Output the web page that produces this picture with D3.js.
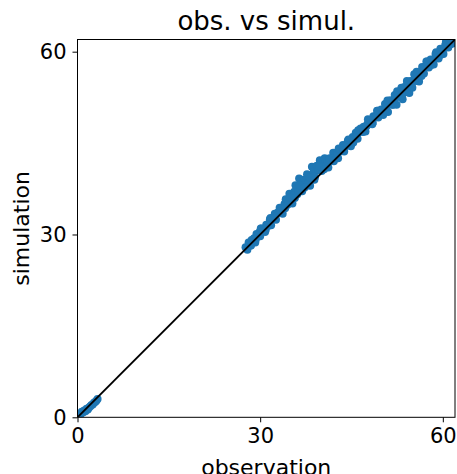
<!DOCTYPE html>
<html><head><meta charset="utf-8">
<script src="https://cdn.jsdelivr.net/npm/d3@7"></script>
<style>
body{margin:0;background:#fff;}
text{font-family:"DejaVu Sans",sans-serif;fill:#000;}
</style></head>
<body><svg id="c" width="457" height="474"></svg>
<script>
const titleText = "obs. vs simul.";
const xLabel = "observation";
const yLabel = "simulation";
const tickValues = [0, 30, 60];
const axisMin = 0, axisMax = 62;

const obsValues = [
0.3,0.5,0.7,0.9,1.1,1.3,1.5,1.7,1.9,2.1,2.3,2.5,2.7,2.9,3.1,3.3,
27.6,27.9,28.1,28.4,28.6,28.9,29.2,29.4,29.7,30.0,30.2,30.5,30.8,31.0,31.3,31.6,31.8,32.1,32.4,32.6,32.9,33.2,33.4,33.7,34.0,34.2,34.5,34.8,35.0,35.3,35.6,35.8,36.1,36.4,36.6,36.9,37.2,37.4,37.7,38.0,38.2,38.5,38.8,39.0,39.3,39.6,39.8,40.1,40.4,40.6,40.9,41.2,41.4,41.7,42.0,42.2,42.5,42.8,43.0,43.3,43.6,43.8,44.1,44.4,44.6,44.9,45.2,45.4,45.7,46.0,46.2,46.5,46.8,47.0,47.3,47.6,47.8,48.1,48.4,48.6,48.9,49.2,49.4,49.7,50.0,50.2,50.5,50.8,51.0,51.3,51.6,51.8,52.1,52.4,52.6,52.9,53.2,53.4,53.7,54.0,54.2,54.5,54.8,55.0,55.3,55.6,55.8,56.1,56.4,56.6,56.9,57.2,57.4,57.7,58.0,58.2,58.5,58.8,59.0,59.3,59.6,59.8,60.1,60.4,60.6,60.9,61.2,61.4,61.7,62.0,
28.2,29.0,29.9,30.7,31.5,32.3,33.1,33.9,34.7,35.5,36.3,37.1,37.9,38.7,39.5,40.3,41.1,41.9,42.7,43.5,44.3,45.1,45.9,46.7,47.5,48.3,49.1,49.9,50.7,51.5,52.3,53.1,53.9,54.7,55.5,56.3,57.1,57.9,58.7,59.5,60.3,61.1,61.9,
28.5,29.3,30.1,30.9,31.7,32.5,33.3,34.1,34.9,35.7,36.5,37.3,38.1,38.9,39.7,40.5,41.3,42.1,42.9,43.7,44.5,45.3,46.1,46.9,47.7,48.5,49.3,50.1,50.9,51.7,52.5,53.3,54.1,54.9,55.7,56.5,57.3,58.1,58.9,59.7,60.5,61.3,62.1
];
const simValues = [
0.6,0.5,0.9,0.8,1.1,1.0,1.4,1.3,1.6,1.8,2.0,2.1,2.4,2.5,2.7,3.0,
27.9,27.5,28.7,28.2,29.1,29.0,28.7,30.1,29.9,29.7,31.0,30.8,30.4,31.6,31.4,32.5,31.5,32.6,33.4,32.4,33.6,34.4,33.7,33.4,35.0,35.8,34.9,36.7,35.8,35.1,37.0,38.1,36.6,39.2,37.8,37.1,39.0,38.0,39.9,39.0,38.0,41.1,40.3,39.4,41.3,40.5,42.2,40.4,41.7,42.5,41.5,41.0,42.5,42.2,43.4,42.4,43.3,42.5,43.9,43.7,44.7,43.6,44.7,45.4,44.8,44.5,46.0,45.7,46.7,45.7,46.8,47.4,46.9,47.7,46.9,48.1,48.8,48.3,48.1,49.4,49.3,50.3,49.2,50.3,50.3,49.6,51.4,51.0,50.1,52.0,51.7,51.3,52.9,51.3,53.0,52.6,54.1,52.2,54.2,53.4,55.0,53.2,55.1,54.1,56.3,55.2,56.4,55.1,56.6,57.5,56.4,57.6,58.4,57.4,58.7,58.3,57.9,59.6,59.3,58.9,60.5,60.0,59.6,61.1,60.9,60.7,62.0,61.8,61.4,62.5,
28.4,29.4,30.4,31.0,31.9,32.9,33.6,34.6,35.3,36.4,37.1,38.1,38.5,39.5,40.7,41.0,42.0,42.5,43.2,44.1,44.6,45.6,46.3,47.3,47.8,48.8,49.5,50.5,51.0,52.0,52.5,53.5,54.2,55.2,55.7,56.7,57.4,58.4,58.9,59.9,60.6,61.6,62.1,
28.2,29.2,31.0,30.7,32.7,32.7,34.1,34.3,36.1,36.0,38.1,37.7,39.4,39.0,41.2,40.7,42.3,42.0,44.1,43.8,45.6,45.1,47.1,46.8,48.9,48.3,50.3,49.8,52.0,51.3,53.5,52.8,55.2,54.3,56.7,56.0,58.4,57.8,59.9,59.5,61.6,61.2,62.9
];
const lineValues = [0, 62];

const svg = d3.select("#c");
const L = 77.5, R = 455, T = 39.5, B = 417.3;
const x = d3.scaleLinear().domain([axisMin, axisMax]).range([L, R]);
const y = d3.scaleLinear().domain([axisMin, axisMax]).range([B, T]);

svg.append("defs").append("clipPath").attr("id","clip")
  .append("rect").attr("x",L).attr("y",T).attr("width",R-L).attr("height",B-T);

const pts = obsValues.map((o,i)=>({o, s: simValues[i]}));
const g = svg.append("g").attr("clip-path","url(#clip)");
g.selectAll("circle").data(pts).enter().append("circle")
  .attr("cx", d=>x(d.o)).attr("cy", d=>y(d.s)).attr("r", 4)
  .attr("fill", "#1f77b4");
g.append("line")
  .attr("x1", x(lineValues[0])).attr("y1", y(lineValues[0]))
  .attr("x2", x(lineValues[1])).attr("y2", y(lineValues[1]))
  .attr("stroke", "#000").attr("stroke-width", 1.8);

const xAxis = d3.axisBottom(x).tickValues(tickValues).tickSize(5).tickPadding(6).tickFormat(d3.format("d"));
const yAxis = d3.axisLeft(y).tickValues(tickValues).tickSize(5).tickPadding(6).tickFormat(d3.format("d"));
const gx = svg.append("g").attr("transform",`translate(0,${B})`).call(xAxis);
const gy = svg.append("g").attr("transform",`translate(${L},0)`).call(yAxis);
[gx, gy].forEach(a=>{
  a.select(".domain").remove();
  a.selectAll("text").attr("font-size", 21).attr("font-family","DejaVu Sans").attr("fill","#000");
  a.selectAll("line").attr("stroke","#000").attr("stroke-width",1);
});
svg.append("rect").attr("x",L).attr("y",T).attr("width",R-L).attr("height",B-T)
  .attr("fill","none").attr("stroke","#000").attr("stroke-width",1);

svg.append("text").attr("x",(L+R)/2).attr("y",30).attr("text-anchor","middle")
  .attr("font-size",26).text(titleText);
svg.append("text").attr("x",(L+R)/2).attr("y",475).attr("text-anchor","middle")
  .attr("font-size",22).text(xLabel);
svg.append("text").attr("transform",`translate(29,${(T+B)/2}) rotate(-90)`).attr("text-anchor","middle")
  .attr("font-size",22).text(yLabel);
</script></body></html>
